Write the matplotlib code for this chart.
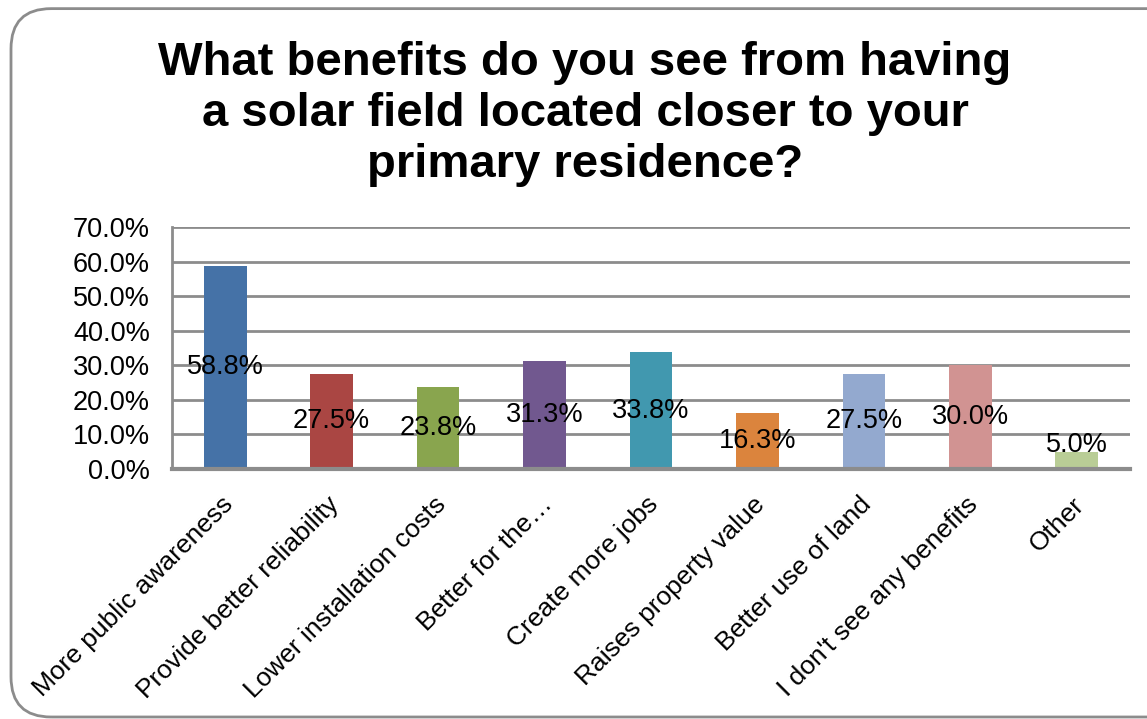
import matplotlib.pyplot as plt
from matplotlib.patches import FancyBboxPatch
from matplotlib.transforms import ScaledTranslation

# survey answers and share of respondents (percent)
categories = ['More public awareness', 'Provide better reliability', 'Lower installation costs',
              'Better for the\u2026', 'Create more jobs', 'Raises property value',
              'Better use of land', "I don't see any benefits", 'Other']
values = [58.8, 27.5, 23.8, 31.3, 33.8, 16.3, 27.5, 30.0, 5.0]
colors = ['#4572A7', '#AA4643', '#89A54E', '#71588F', '#4198AF',
          '#DB843D', '#93A9CF', '#D19392', '#B9CD96']
yticks = [0, 10, 20, 30, 40, 50, 60, 70]

title = 'What benefits do you see from having\na solar field located closer to your\nprimary residence?'

plt.rcParams['font.family'] = ['Liberation Sans', 'DejaVu Sans']

fig = plt.figure(figsize=(11.47, 7.19), dpi=100)
W, H = 1147, 719

# rounded slide frame
frame = FancyBboxPatch((11 / W, 2 / H), 1.2, 0.988 - 2 / H,
                       boxstyle='round,pad=0,rounding_size=0.035',
                       transform=fig.transFigure, fill=False,
                       edgecolor='#8c8c8c', linewidth=2, mutation_aspect=W / H)
fig.patches.append(frame)

ax = fig.add_axes([172 / W, 1 - 469 / H, (1130 - 172) / W, (469 - 227) / H])

x = range(len(categories))
ax.bar(x, values, width=0.4, color=colors, zorder=3)

ax.set_xlim(-0.5, len(categories) - 0.5)
ax.set_ylim(0, 70)
ax.set_yticks(yticks)
ax.set_yticklabels([f'{t:.1f}%' for t in yticks], fontsize=19.5)
ax.tick_params(axis='y', length=0, pad=16)
ax.yaxis.grid(True, color='#8c8c8c', linewidth=2, zorder=0)

ax.set_xticks(list(x))
ax.set_xticklabels(categories, fontsize=19, rotation=45, ha='right',
                   va='center', rotation_mode='anchor')
ax.tick_params(axis='x', length=0, pad=23)
offset = ScaledTranslation(4 / 100, 0, fig.dpi_scale_trans)
for lbl in ax.get_xticklabels():
    lbl.set_transform(lbl.get_transform() + offset)

for side in ['top', 'right']:
    ax.spines[side].set_visible(False)
ax.spines['left'].set_color('#8c8c8c')
ax.spines['left'].set_linewidth(2)
ax.spines['bottom'].set_color('#8c8c8c')
ax.spines['bottom'].set_linewidth(3)
ax.spines['bottom'].set_zorder(4)

# value labels in the middle of each bar
for i, v in enumerate(values):
    ax.text(i, max(v / 2, 7.0), f'{v:.1f}%', ha='center', va='center',
            fontsize=19.5, zorder=5)

fig.text(585 / W, 1 - 114 / H, title, ha='center', va='center',
         fontsize=34, fontweight='bold', linespacing=1.22)

fig.savefig('out.png', dpi=100)
